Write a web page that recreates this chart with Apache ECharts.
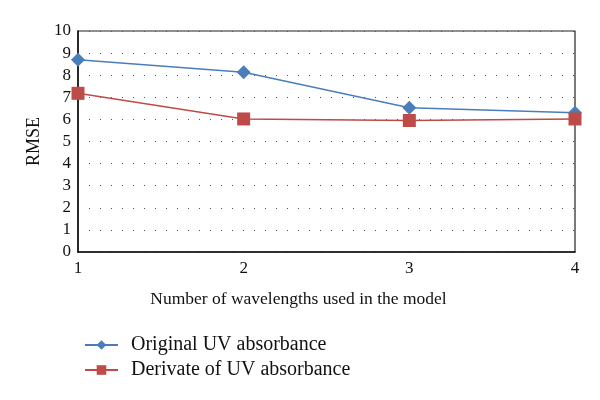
<!DOCTYPE html>
<html><head><meta charset="utf-8">
<script src="https://cdn.jsdelivr.net/npm/echarts@6/dist/echarts.min.js"></script>
<style>html,body{margin:0;padding:0;background:#fff}#c{width:600px;height:400px}</style>
</head><body><div id="c"></div>
<script>
const xValues = [1, 2, 3, 4];
const originalUV = [8.70, 8.13, 6.53, 6.30];
const derivativeUV = [7.18, 6.02, 5.95, 6.02];
const yTicks = [0, 10, 1];
const seriesNames = ['Original UV absorbance', 'Derivate of UV absorbance'];
const xTitle = 'Number of wavelengths used in the model';
const yTitle = 'RMSE';

const font = 'Liberation Serif';
const chart = echarts.init(document.getElementById('c'), null, {renderer: 'canvas'});
chart.setOption({
  animation: false,
  backgroundColor: '#fff',
  grid: {left: 78, right: 25, top: 31, bottom: 148, show: true, borderColor: '#222', borderWidth: 1.2},
  xAxis: {
    type: 'value', min: 1, max: 4, interval: 1,
    name: xTitle, nameLocation: 'middle', nameGap: 38,
    nameTextStyle: {fontFamily: font, fontSize: 17.5, color: '#111', padding: [0, 56, 0, 0]},
    axisLine: {lineStyle: {color: '#111', width: 1.5}},
    axisTick: {show: false},
    axisLabel: {fontFamily: font, fontSize: 17, color: '#111', margin: 8},
    splitLine: {show: false}
  },
  yAxis: {
    type: 'value', min: yTicks[0], max: yTicks[1], interval: yTicks[2],
    name: yTitle, nameLocation: 'middle', nameGap: 34, nameRotate: 90,
    nameTextStyle: {fontFamily: font, fontSize: 18, color: '#111'},
    axisLine: {show: true, lineStyle: {color: '#111', width: 1.5}},
    axisTick: {show: false},
    axisLabel: {fontFamily: font, fontSize: 17, color: '#111', margin: 7},
    splitLine: {show: true, lineStyle: {color: '#555', type: [1, 10], width: 1}}
  },
  legend: {
    orient: 'vertical', left: 84, top: 335, padding: 0, itemGap: 5, itemWidth: 33, itemHeight: 12,
    textStyle: {fontFamily: font, fontSize: 20, color: '#111', padding: [0, 0, 0, 8]},
    data: seriesNames
  },
  series: [
    {name: seriesNames[0], type: 'line', data: xValues.map((x, i) => [x, originalUV[i]]),
     symbol: 'diamond', symbolSize: 14, itemStyle: {color: '#4a7ebb'}, lineStyle: {color: '#4a7ebb', width: 1.5}},
    {name: seriesNames[1], type: 'line', data: xValues.map((x, i) => [x, derivativeUV[i]]),
     symbol: 'rect', symbolSize: 13, itemStyle: {color: '#be4b48'}, lineStyle: {color: '#be4b48', width: 1.5}}
  ]
});
</script></body></html>
